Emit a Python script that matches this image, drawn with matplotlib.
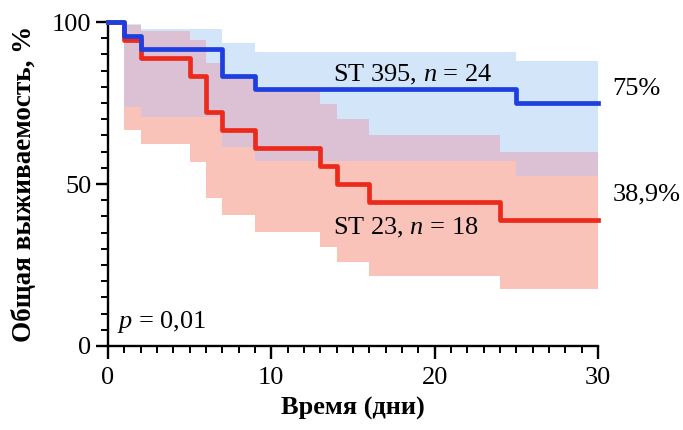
import matplotlib
matplotlib.use("Agg")
import matplotlib.pyplot as plt
import numpy as np
from matplotlib.ticker import MultipleLocator

plt.rcParams['font.family'] = ['Liberation Serif', 'DejaVu Serif']
plt.rcParams['mathtext.fontset'] = 'custom'
plt.rcParams['mathtext.rm'] = 'Liberation Serif'
plt.rcParams['mathtext.it'] = 'Liberation Serif:italic'

# ST 395 (n = 24): Kaplan-Meier steps (%), with confidence band
blue_times = [0, 1, 2, 7, 9, 25]
blue_surv = [100, 95.8, 91.7, 83.3, 79.2, 75.0]
blue_lo = [100, 73.9, 70.6, 61.5, 57.0, 52.6]
blue_hi = [100, 99.4, 97.9, 93.4, 90.8, 87.9]

# ST 23 (n = 18)
red_times = [0, 1, 2, 5, 6, 7, 9, 13, 14, 16, 24]
red_surv = [100, 94.4, 88.9, 83.3, 72.2, 66.7, 61.1, 55.6, 50.0, 44.4, 38.9]
red_lo = [100, 66.6, 62.4, 56.8, 45.6, 40.4, 35.3, 30.5, 25.9, 21.6, 17.5]
red_hi = [100, 99.2, 97.1, 94.3, 87.4, 83.4, 79.2, 74.8, 70.1, 65.1, 60.0]

t_end = 30
x_ticks = [0, 10, 20, 30]
y_ticks = [0, 50, 100]

blue_label = "ST 395, $n$ = 24"
red_label = "ST 23, $n$ = 18"
blue_final = "75%"
red_final = "38,9%"
p_text = "$p$ = 0,01"
xlabel = "Время (дни)"
ylabel = "Общая выживаемость, %"

BLUE = '#1d3fe0'
RED = '#ec2a1c'
BLUE_BAND = '#d2e5f9'
RED_BAND = '#f9c3ba'
OVERLAP = '#dcc0d3'

fig = plt.figure(figsize=(6.83, 4.30), dpi=100)
ax = fig.add_axes([108/683, 84/430, 490/683, 324/430])


def ext(t, v):
    return list(t) + [t_end], list(v) + [v[-1]]


def step_at(times, vals, grid):
    idx = np.searchsorted(np.asarray(times), grid, side='right') - 1
    return np.asarray(vals)[idx]


rt, rlo = ext(red_times, red_lo)
_, rhi = ext(red_times, red_hi)
bt, blo = ext(blue_times, blue_lo)
_, bhi = ext(blue_times, blue_hi)

ax.fill_between(rt, rlo, rhi, step='post', color=RED_BAND, lw=0, zorder=1)
ax.fill_between(bt, blo, bhi, step='post', color=BLUE_BAND, lw=0, zorder=2)

# overlap of the two bands
grid = np.union1d(red_times, blue_times)
grid = np.append(grid, t_end)
olo = np.maximum(step_at(red_times, red_lo, grid), step_at(blue_times, blue_lo, grid))
ohi = np.minimum(step_at(red_times, red_hi, grid), step_at(blue_times, blue_hi, grid))
ax.fill_between(grid, olo, ohi, where=ohi > olo, step='post', color=OVERLAP,
                lw=0, zorder=3, interpolate=False)

rt2, rs = ext(red_times, red_surv)
bt2, bs = ext(blue_times, blue_surv)
ax.step(rt2, rs, where='post', color=RED, lw=3.4, zorder=4, clip_on=False)
ax.step(bt2, bs, where='post', color=BLUE, lw=3.4, zorder=5, clip_on=False)

ax.set_xlim(0, 30)
ax.set_ylim(0, 100)
ax.set_xticks(x_ticks)
ax.set_yticks(y_ticks)
ax.xaxis.set_minor_locator(MultipleLocator(1))
ax.yaxis.set_minor_locator(MultipleLocator(5))

for s in ['top', 'right']:
    ax.spines[s].set_visible(False)
for s in ['left', 'bottom']:
    ax.spines[s].set_linewidth(1.7)

ax.tick_params(which='major', length=9, width=1.7, labelsize=19, direction='out')
ax.tick_params(which='minor', length=5, width=1.4, direction='out')
ax.tick_params(axis='x', which='major', pad=6)
ax.tick_params(axis='y', which='major', pad=3)

ax.set_xlabel(xlabel, fontsize=19, fontweight='bold', labelpad=6)
ax.set_ylabel(ylabel, fontsize=19.5, fontweight='bold', labelpad=11)

ax.text(13.8, 81.8, blue_label, fontsize=19, ha='left', va='baseline', zorder=6)
ax.text(13.8, 34.3, red_label, fontsize=19, ha='left', va='baseline', zorder=6)
ax.text(30.9, 77.5, blue_final, fontsize=19, ha='left', va='baseline', clip_on=False)
ax.text(30.9, 45.0, red_final, fontsize=19, ha='left', va='baseline', clip_on=False)
ax.text(0.55, 5.5, p_text, fontsize=19, ha='left', va='baseline')

fig.savefig('out.png', dpi=100)
